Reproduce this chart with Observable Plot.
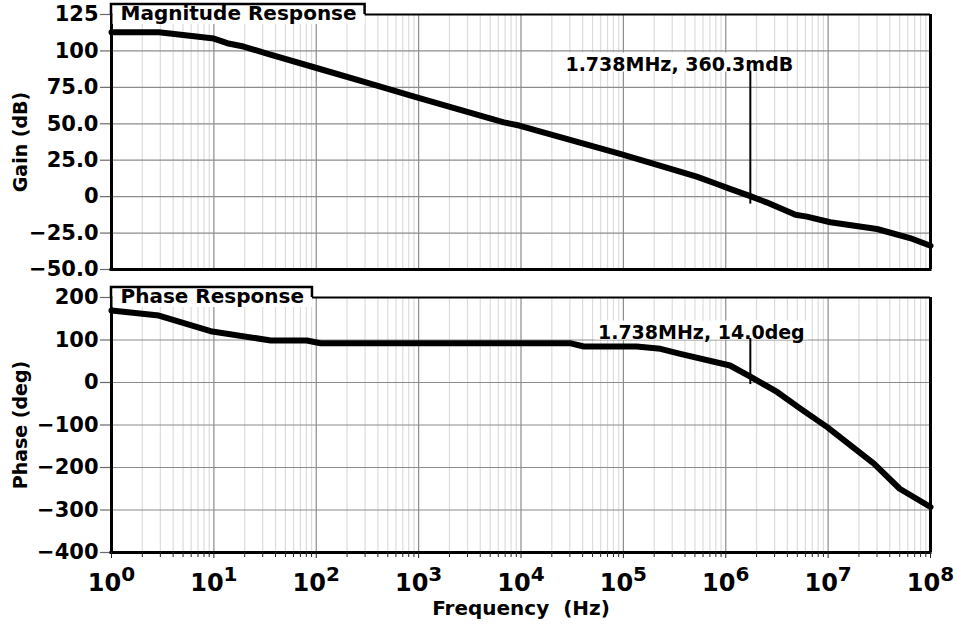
<!DOCTYPE html>
<html>
<head>
<meta charset="utf-8">
<script src="https://cdn.jsdelivr.net/npm/d3@7"></script>
<script src="https://cdn.jsdelivr.net/npm/@observablehq/plot@0.6"></script>
<style>
html, body { margin: 0; padding: 0; background: #fff; }
#chart { width: 957px; height: 631px; position: relative; }
#chart svg { display: block; }
</style>
</head>
<body>
<div id="chart"></div>
<script>
// ---- data ----
const xDomain = [1, 1e8];
const decades = [1, 10, 100, 1e3, 1e4, 1e5, 1e6, 1e7, 1e8];
const decadeExponents = ["0", "1", "2", "3", "4", "5", "6", "7", "8"];
const minorMultipliers = [2, 3, 4, 5, 6, 7, 8, 9];

const gainTicks = [-50, -25, 0, 25, 50, 75, 100, 125];
const gainTickLabels = ["\u221250.0", "\u221225.0", "0", "25.0", "50.0", "75.0", "100", "125"];
const phaseTicks = [-400, -300, -200, -100, 0, 100, 200];
const phaseTickLabels = ["\u2212400", "\u2212300", "\u2212200", "\u2212100", "0", "100", "200"];

const magFreq = [1, 2.9, 10, 13.5, 19.5, 33, 95, 330, 960, 6800, 9600, 93000, 290000, 520000, 820000, 1.1e6, 1.738e6, 2.5e6, 4.8e6, 6.2e6, 1.05e7, 3e7, 6.3e7, 1e8];
const magGain = [112.8, 112.8, 108.5, 105.3, 103, 98.2, 88.8, 77.8, 68.2, 51, 48.8, 29.3, 19, 13.7, 8.7, 5.3, 0.36, -3.9, -12.4, -13.7, -17.6, -22.2, -28.4, -33.7];

const phaseFreq = [1, 2.9, 9.3, 36, 81, 110, 30000, 41000, 135000, 230000, 360000, 1.1e6, 1.738e6, 3.2e6, 5.4e6, 9.8e6, 2.8e7, 5e7, 1e8];
const phaseDeg = [169.4, 157.6, 120.7, 98.8, 98.8, 92.5, 92.5, 84.7, 84.7, 79.3, 67.5, 40, 14, -22.8, -62, -105, -191, -250, -293];

const markerFreq = 1.738e6;
const markerGain = 0.3603;
const markerPhase = 14.0;
const markerGainLabel = "1.738MHz, 360.3mdB";
const markerPhaseLabel = "1.738MHz, 14.0deg";

const magTitle = "Magnitude Response";
const phaseTitle = "Phase Response";
const gainAxisTitle = "Gain (dB)";
const phaseAxisTitle = "Phase (deg)";
const freqAxisTitle = "Frequency  (Hz)";

// ---- helpers ----
const W = 957;
const ns = "http://www.w3.org/2000/svg";
const minorTicks = decades.slice(0, -1).flatMap(d => minorMultipliers.map(m => m * d));
const fontStyle = {fontFamily: "'DejaVu Sans', sans-serif", fontWeight: "bold", background: "white", overflow: "visible", color: "black"};

function panel(cfg) {
  const curve = cfg.freq.map((f, i) => ({f, v: cfg.values[i]}));
  const marker = [{f: markerFreq, v: cfg.markerValue, label: cfg.markerLabel}];
  const marks = [
    Plot.ruleX(minorTicks, {stroke: "#dcdcdc", strokeWidth: 1.2}),
    Plot.ruleX(decades, {stroke: "#8c8c8c", strokeWidth: 1.2}),
    Plot.ruleY(cfg.yTicks, {stroke: "#8c8c8c", strokeWidth: 1.2}),
    Plot.axisY({ticks: cfg.yTicks, tickFormat: d => cfg.yLabels[cfg.yTicks.indexOf(d)], tickSize: 11, tickPadding: 2, fontSize: 21, stroke: "#6a6a6a", strokeWidth: 1.2, fill: "black", label: null}),
    Plot.line(curve, {x: "f", y: "v", stroke: "black", strokeWidth: 6, strokeLinejoin: "round"}),
    Plot.ruleX([xDomain[0]], {stroke: "black", strokeWidth: 3}),
    Plot.ruleX([xDomain[1]], {stroke: "black", strokeWidth: 3}),
    Plot.ruleY([cfg.yDomain[0]], {stroke: "black", strokeWidth: 3, strokeLinecap: "square"}),
    Plot.ruleY([cfg.yDomain[1]], {stroke: "black", strokeWidth: 2}),
    Plot.text(marker, {x: "f", y: "v", text: "label", dx: cfg.labelDx, dy: cfg.labelDy, fontSize: 19, fill: "black"}),
    Plot.ruleX(marker, {x: "f", y1: "v", y2: "v", insetTop: cfg.ruleUp, insetBottom: -8, stroke: "black", strokeWidth: 2}),
    Plot.text([cfg.title], {text: d => d, frameAnchor: "top-left", lineAnchor: "middle", textAnchor: "start", dx: 9, dy: -1.3, fontSize: 20, fill: "black"}),
    Plot.text([cfg.yTitle], {text: d => d, frameAnchor: "left", textAnchor: "middle", lineAnchor: "middle", rotate: -90, dx: -91, fontSize: 19, fill: "black"})
  ];
  const xOpts = {type: "log", domain: xDomain};
  if (cfg.xAxis) {
    marks.push(
      Plot.axisX({ticks: minorTicks, tickSize: 5, tickFormat: () => "", stroke: "#222", label: null}),
      Plot.axisX({ticks: decades, tickSize: 6, tickPadding: 15, tickFormat: d => "10^" + decadeExponents[decades.indexOf(d)], fontSize: 24, stroke: "#222", fill: "black", label: null}),
      Plot.text([freqAxisTitle], {text: d => d, frameAnchor: "bottom", lineAnchor: "middle", textAnchor: "middle", dy: 55.6, fontSize: 20, fill: "black"})
    );
  } else {
    xOpts.axis = null;
  }
  return Plot.plot({
    width: W, height: cfg.height,
    marginTop: 14, marginBottom: cfg.marginBottom, marginLeft: 111, marginRight: 27,
    x: xOpts,
    y: {domain: cfg.yDomain},
    style: fontStyle,
    marks
  });
}

function mk(tag, attrs) {
  const el = document.createElementNS(ns, tag);
  for (const k in attrs) el.setAttribute(k, attrs[k]);
  return el;
}
function topGroup(svg, el) {
  let g = el;
  while (g.parentNode && g.parentNode !== svg) g = g.parentNode;
  return g;
}
function decorate(svg, cfg) {
  const sr = svg.getBoundingClientRect();
  const texts = Array.from(svg.querySelectorAll("text"));
  const find = s => texts.find(e => e.textContent === s);
  // white background behind marker label
  const mt = find(cfg.markerLabel);
  if (mt) {
    const r = mt.getBoundingClientRect();
    const rect = mk("rect", {x: r.left - sr.left - 3, y: r.top - sr.top, width: r.width + 6, height: r.height - 3, fill: "white"});
    svg.insertBefore(rect, topGroup(svg, mt));
  }
  // title tab
  const tt = find(cfg.title);
  if (tt) {
    const sx = svg.scale("x"), sy = svg.scale("y");
    const x0 = sx.apply(xDomain[0]), top = sy.apply(cfg.yDomain[1]);
    const r = tt.getBoundingClientRect();
    const right = r.right - sr.left + 8;
    const g = topGroup(svg, tt);
    svg.insertBefore(mk("rect", {x: x0 + 1.5, y: top - 10, width: right - x0 - 1.5, height: 20, fill: "white"}), g);
    svg.insertBefore(mk("path", {d: `M${x0},${top + 1}V${top - 10}H${right}V${top}`, fill: "none", stroke: "black", "stroke-width": 2.5}), g);
  }
  // superscript exponents on x tick labels
  svg.querySelectorAll('g[aria-label="x-axis tick label"] text').forEach(t => {
    const m = t.textContent.match(/^10\^(\d+)$/);
    if (!m) return;
    t.textContent = "10";
    const ts = mk("tspan", {dy: -10, "font-size": 20});
    ts.textContent = m[1];
    t.appendChild(ts);
  });
}

const topCfg = {
  height: 283, marginBottom: 14, yDomain: [-50, 125], yTicks: gainTicks, yLabels: gainTickLabels,
  freq: magFreq, values: magGain, markerValue: markerGain, markerLabel: markerGainLabel,
  labelDx: -71, labelDy: -131.7, ruleUp: -125, title: magTitle, yTitle: gainAxisTitle, xAxis: false
};
const botCfg = {
  height: 348, marginBottom: 79, yDomain: [-400, 200], yTicks: phaseTicks, yLabels: phaseTickLabels,
  freq: phaseFreq, values: phaseDeg, markerValue: markerPhase, markerLabel: markerPhaseLabel,
  labelDx: -49, labelDy: -44.1, ruleUp: -38, title: phaseTitle, yTitle: phaseAxisTitle, xAxis: true
};

const chart = document.getElementById("chart");
const top1 = panel(topCfg);
const bot1 = panel(botCfg);
chart.appendChild(top1);
chart.appendChild(bot1);
decorate(top1, topCfg);
decorate(bot1, botCfg);
</script>
</body>
</html>
